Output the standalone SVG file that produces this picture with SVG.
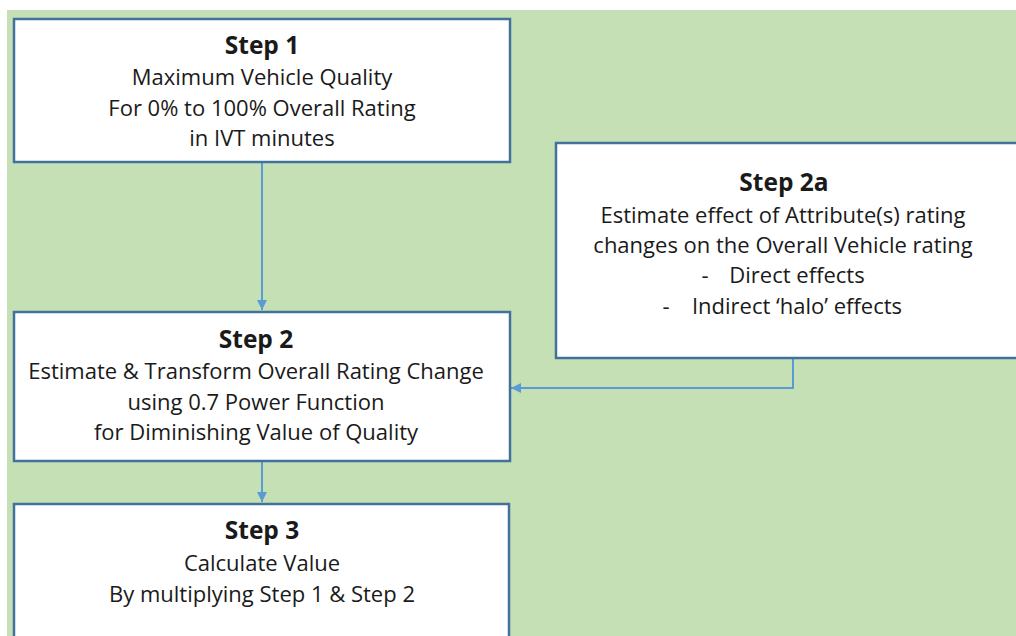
<svg xmlns="http://www.w3.org/2000/svg" width="1016" height="636" viewBox="0 0 1016 636">
<defs>
<style>
.box{fill:#ffffff;stroke:#41719c;stroke-width:2.5}
.t{font-family:"Open Sans","Liberation Sans",sans-serif;font-size:22px;fill:#1a1a1a;text-anchor:middle}
.h{font-weight:bold;font-size:24.5px}
.c{fill:none;stroke:#5b9bd5;stroke-width:2}
</style>
<marker id="ah" viewBox="0 0 10 10" refX="10" refY="5" markerWidth="10" markerHeight="10" markerUnits="userSpaceOnUse" orient="auto">
<path d="M0,0 L10,5 L0,10 z" fill="#5b9bd5"/>
</marker>
</defs>
<rect x="0" y="0" width="1016" height="636" fill="#ffffff"/>
<rect x="7" y="10" width="1009" height="626" fill="#c5e0b4"/>
<g id="connectors">
<path class="c" d="M262,163 V310" marker-end="url(#ah)"/>
<path class="c" d="M262,462 V502" marker-end="url(#ah)"/>
<path class="c" d="M793,359 V388 H511" marker-end="url(#ah)"/>
</g>
<g id="step1">
<rect class="box" x="14" y="19" width="496" height="143"/>
<text class="t h" x="262" y="54">Step 1</text>
<text class="t" x="262" y="85">Maximum Vehicle Quality</text>
<text class="t" x="262" y="116">For 0% to 100% Overall Rating</text>
<text class="t" x="262" y="146">in IVT minutes</text>
</g>
<g id="step2a">
<rect class="box" x="556" y="143" width="470" height="215"/>
<text class="t h" x="784" y="191">Step 2a</text>
<text class="t" x="783" y="223">Estimate effect of Attribute(s) rating</text>
<text class="t" x="783" y="253">changes on the Overall Vehicle rating</text>
<text class="t" x="705" y="283">-</text>
<text class="t" x="797" y="283">Direct effects</text>
<text class="t" x="666" y="314">-</text>
<text class="t" x="797" y="314">Indirect ‘halo’ effects</text>
</g>
<g id="step2">
<rect class="box" x="14" y="312" width="496" height="149"/>
<text class="t h" x="256" y="348">Step 2</text>
<text class="t" x="256" y="379">Estimate &amp; Transform Overall Rating Change</text>
<text class="t" x="256" y="410">using 0.7 Power Function</text>
<text class="t" x="256" y="440">for Diminishing Value of Quality</text>
</g>
<g id="step3">
<rect class="box" x="14" y="504" width="495" height="140"/>
<text class="t h" x="262" y="539">Step 3</text>
<text class="t" x="262" y="571">Calculate Value</text>
<text class="t" x="262" y="602">By multiplying Step 1 &amp; Step 2</text>
</g>
</svg>
